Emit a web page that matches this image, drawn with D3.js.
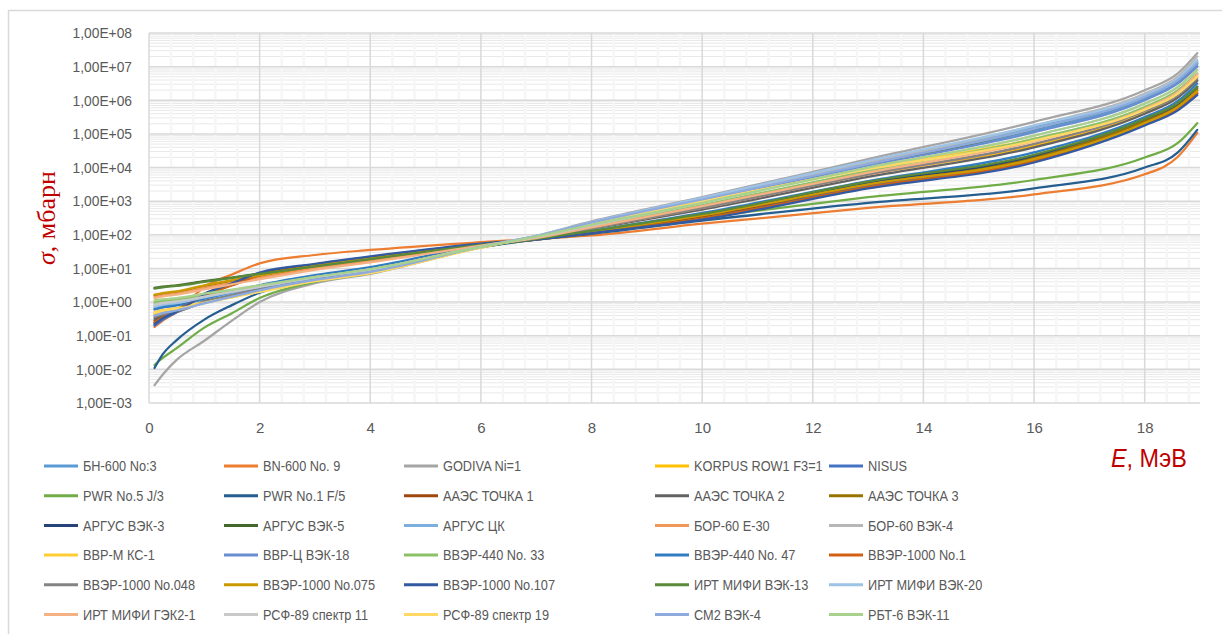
<!DOCTYPE html>
<html>
<head>
<meta charset="utf-8">
<script src="https://cdn.jsdelivr.net/npm/d3@7"></script>
<style>
  body { margin: 0; background: #fff; }
  text { font-family: "Liberation Sans", Arial, sans-serif; }
</style>
</head>
<body>
<div id="chart"></div>
<script>
// energy grid, MeV
const energies = [0.1, 0.25, 0.5, 1, 1.5, 2, 3, 4, 6, 7, 8, 10, 13, 16, 18, 18.6, 18.95];

const seriesNames = [
  "БН-600 No:3", "BN-600 No. 9", "GODIVA Ni=1", "KORPUS ROW1 F3=1", "NISUS",
  "PWR No.5 J/3", "PWR No.1 F/5", "ААЭС ТОЧКА 1", "ААЭС ТОЧКА 2", "ААЭС ТОЧКА 3",
  "АРГУС ВЭК-3", "АРГУС ВЭК-5", "АРГУС ЦК", "БОР-60 Е-30", "БОР-60 ВЭК-4",
  "ВВР-М КС-1", "ВВР-Ц ВЭК-18", "ВВЭР-440 No. 33", "ВВЭР-440 No. 47", "ВВЭР-1000 No.1",
  "ВВЭР-1000 No.048", "ВВЭР-1000 No.075", "ВВЭР-1000 No.107", "ИРТ МИФИ ВЭК-13", "ИРТ МИФИ ВЭК-20",
  "ИРТ МИФИ ГЭК2-1", "РСФ-89 спектр 11", "РСФ-89 спектр 19", "СМ2 ВЭК-4", "РБТ-6 ВЭК-11"
];

// log10(sigma, mbarn) at each energy
const lgSigma = [
  [-0.2, -0.15, -0.08, 0.08, 0.25, 0.4, 0.7, 0.94, 1.65, 1.95, 2.32, 3.0, 4.08, 5.1, 6.05, 6.55, 7.05],
  [-0.74, -0.55, -0.3, 0.45, 0.82, 1.15, 1.4, 1.55, 1.78, 1.88, 1.98, 2.33, 2.8, 3.2, 3.8, 4.32, 5.03],
  [-2.47, -2.15, -1.72, -1.15, -0.55, 0.0, 0.56, 0.84, 1.64, 1.97, 2.4, 3.12, 4.25, 5.36, 6.3, 6.8, 7.4],
  [-0.36, -0.3, -0.22, -0.02, 0.15, 0.32, 0.64, 0.88, 1.63, 1.92, 2.25, 2.85, 3.8, 4.65, 5.62, 6.1, 6.6],
  [-0.7, -0.52, -0.3, 0.2, 0.55, 0.85, 1.12, 1.34, 1.72, 1.86, 2.06, 2.5, 3.45, 4.2, 5.28, 5.75, 6.2],
  [-1.87, -1.66, -1.37, -0.76, -0.33, 0.12, 0.6, 0.86, 1.62, 1.87, 2.08, 2.52, 3.12, 3.63, 4.3, 4.73, 5.32],
  [-1.96, -1.55, -1.13, -0.52, -0.09, 0.28, 0.66, 0.92, 1.63, 1.86, 2.03, 2.42, 2.95, 3.38, 4.0, 4.45, 5.12],
  [-0.55, -0.4, -0.22, 0.2, 0.5, 0.78, 1.05, 1.28, 1.7, 1.87, 2.08, 2.55, 3.5, 4.28, 5.38, 5.85, 6.3],
  [-0.5, -0.41, -0.3, 0.02, 0.26, 0.48, 0.78, 1.02, 1.68, 1.9, 2.18, 2.75, 3.72, 4.6, 5.6, 6.08, 6.58],
  [0.2, 0.25, 0.3, 0.48, 0.63, 0.78, 1.05, 1.28, 1.7, 1.88, 2.1, 2.6, 3.55, 4.3, 5.4, 5.88, 6.35],
  [-0.62, -0.45, -0.25, 0.25, 0.56, 0.85, 1.1, 1.32, 1.72, 1.87, 2.1, 2.6, 3.55, 4.35, 5.45, 5.9, 6.4],
  [0.42, 0.46, 0.5, 0.62, 0.73, 0.85, 1.08, 1.3, 1.7, 1.92, 2.3, 3.0, 4.05, 5.15, 6.1, 6.6, 7.1],
  [-0.15, -0.1, -0.05, 0.1, 0.26, 0.42, 0.7, 0.94, 1.65, 1.96, 2.35, 3.05, 4.12, 5.2, 6.1, 6.6, 7.15],
  [0.15, 0.2, 0.25, 0.42, 0.57, 0.72, 1.0, 1.22, 1.68, 1.9, 2.2, 2.8, 3.8, 4.7, 5.7, 6.2, 6.7],
  [-0.05, 0.0, 0.05, 0.2, 0.35, 0.5, 0.78, 1.0, 1.66, 1.95, 2.34, 3.05, 4.15, 5.25, 6.2, 6.7, 7.3],
  [-0.3, -0.24, -0.18, 0.0, 0.16, 0.32, 0.63, 0.87, 1.63, 1.96, 2.35, 3.02, 4.0, 4.85, 5.75, 6.25, 6.75],
  [-0.42, -0.34, -0.26, -0.02, 0.18, 0.38, 0.68, 0.92, 1.65, 1.95, 2.32, 3.0, 4.05, 5.05, 6.0, 6.5, 7.0],
  [0.0, 0.04, 0.08, 0.2, 0.34, 0.48, 0.74, 0.96, 1.64, 1.93, 2.25, 2.88, 3.9, 4.85, 5.8, 6.3, 6.8],
  [-0.22, -0.16, -0.1, 0.1, 0.3, 0.5, 0.8, 1.04, 1.68, 1.88, 2.12, 2.65, 3.6, 4.45, 5.5, 5.98, 6.5],
  [-0.6, -0.44, -0.25, 0.2, 0.5, 0.8, 1.08, 1.3, 1.72, 1.86, 2.06, 2.48, 3.42, 4.2, 5.3, 5.75, 6.22],
  [-0.45, -0.37, -0.28, 0.0, 0.21, 0.42, 0.72, 0.96, 1.66, 1.9, 2.2, 2.8, 3.8, 4.7, 5.68, 6.15, 6.65],
  [0.22, 0.27, 0.32, 0.5, 0.65, 0.8, 1.08, 1.3, 1.7, 1.88, 2.1, 2.58, 3.5, 4.25, 5.32, 5.8, 6.28],
  [-0.66, -0.48, -0.28, 0.22, 0.56, 0.88, 1.14, 1.36, 1.74, 1.86, 2.05, 2.45, 3.38, 4.15, 5.25, 5.7, 6.15],
  [0.4, 0.44, 0.48, 0.6, 0.72, 0.84, 1.06, 1.28, 1.7, 1.88, 2.12, 2.62, 3.58, 4.38, 5.45, 5.92, 6.4],
  [-0.12, -0.07, -0.02, 0.14, 0.3, 0.45, 0.73, 0.96, 1.66, 1.97, 2.38, 3.1, 4.2, 5.25, 6.15, 6.65, 7.2],
  [0.12, 0.17, 0.22, 0.38, 0.53, 0.68, 0.96, 1.18, 1.68, 1.9, 2.22, 2.85, 3.85, 4.78, 5.75, 6.25, 6.78],
  [-0.08, -0.03, 0.02, 0.16, 0.31, 0.46, 0.74, 0.97, 1.65, 1.93, 2.28, 2.95, 4.0, 4.95, 5.9, 6.4, 6.9],
  [-0.32, -0.26, -0.2, -0.02, 0.14, 0.3, 0.62, 0.86, 1.62, 1.95, 2.33, 3.0, 3.95, 4.8, 5.72, 6.2, 6.7],
  [-0.4, -0.33, -0.25, -0.04, 0.16, 0.35, 0.66, 0.9, 1.64, 1.96, 2.36, 3.05, 4.1, 5.15, 6.1, 6.6, 7.1],
  [0.05, 0.08, 0.12, 0.25, 0.37, 0.5, 0.75, 0.98, 1.64, 1.95, 2.3, 2.95, 4.0, 4.95, 5.9, 6.4, 6.9]
];

const xTicks = [0, 2, 4, 6, 8, 10, 12, 14, 16, 18];
const yDecades = [-3, -2, -1, 0, 1, 2, 3, 4, 5, 6, 7, 8];

const width = 1222, height = 634;

// excel office palette, same order as the series
const colors = [
  "#5b9bd5", "#ed7d31", "#a5a5a5", "#ffc000", "#4472c4",
  "#70ad47", "#255e91", "#9e480e", "#636363", "#997300",
  "#264478", "#43682b", "#7cafdd", "#f1975a", "#b7b7b7",
  "#ffcd33", "#698ed0", "#8cc168", "#327dc2", "#d26012",
  "#848484", "#cc9a00", "#335aa1", "#5a8a39", "#9dc3e6",
  "#f4b183", "#c9c9c9", "#ffd966", "#8faadc", "#a9d18e"
];

// squeeze a text horizontally (Calibri is narrower than Liberation Sans)
function squeeze(sel, k) {
  sel.each(function () {
    const w = this.getComputedTextLength();
    d3.select(this).attr("textLength", w * k).attr("lengthAdjust", "spacingAndGlyphs");
  });
}

var svg = d3.select("#chart")
  .append("svg")
  .attr("width", width)
  .attr("height", height);

// chart frame
svg.append("rect")
  .attr("x", 8.5).attr("y", 10.5)
  .attr("width", 1240).attr("height", 640)
  .attr("fill", "#fff")
  .attr("stroke", "#d9d9d9")
  .attr("stroke-width", 1.5);

const x = d3.scaleLinear().domain([0, 19]).range([149, 1200]);
const y = d3.scaleLog().domain([1e-3, 1e8]).range([403, 33]);

const grid = svg.append("g");

// minor horizontal gridlines 2..9 x 10^k
var minorY = [];
yDecades.slice(0, -1).forEach(k => {
  for (let m = 2; m <= 9; m++) minorY.push(m * Math.pow(10, k));
});
grid.selectAll(".minor-y")
  .data(minorY)
  .enter().append("line")
  .attr("x1", x(0)).attr("x2", x(19))
  .attr("y1", d => y(d)).attr("y2", d => y(d))
  .attr("stroke", "#e9e9e9")
  .attr("stroke-width", 1);

// minor vertical gridlines every 0.4
var minorX = d3.range(1, 48).map(i => i * 0.4).filter(v => Math.abs(v / 2 - Math.round(v / 2)) > 1e-6);
grid.selectAll(".minor-x")
  .data(minorX)
  .enter().append("line")
  .attr("x1", d => x(d)).attr("x2", d => x(d))
  .attr("y1", y(1e8)).attr("y2", y(1e-3))
  .attr("stroke", "#f6f6f6")
  .attr("stroke-width", 2.5);

// major gridlines
grid.selectAll(".major-y")
  .data(yDecades)
  .enter().append("line")
  .attr("x1", x(0)).attr("x2", x(19))
  .attr("y1", d => y(Math.pow(10, d))).attr("y2", d => y(Math.pow(10, d)))
  .attr("stroke", "#d9d9d9")
  .attr("stroke-width", 1.5);

grid.selectAll(".major-x")
  .data(xTicks)
  .enter().append("line")
  .attr("x1", d => x(d)).attr("x2", d => x(d))
  .attr("y1", y(1e8)).attr("y2", y(1e-3))
  .attr("stroke", "#d9d9d9")
  .attr("stroke-width", 1.5);

// axes
const fmtE = v => {
  const e = Math.round(Math.log10(v));
  return "1,00E" + (e < 0 ? "-" : "+") + String(Math.abs(e)).padStart(2, "0");
};

svg.append("g")
  .attr("transform", `translate(${x(0)},0)`)
  .call(d3.axisLeft(y).tickValues(yDecades.map(k => Math.pow(10, k))).tickFormat(fmtE).tickSize(0).tickPadding(17))
  .call(g => g.select(".domain").remove())
  .selectAll("text")
  .style("font-family", "'Liberation Sans', Arial, sans-serif")
  .style("font-size", "15px")
  .attr("fill", "#595959")
  .call(squeeze, 0.92);

svg.append("g")
  .attr("transform", `translate(0,${y(1e-3)})`)
  .call(d3.axisBottom(x).tickValues(xTicks).tickFormat(d3.format("d")).tickSize(0).tickPadding(19))
  .call(g => g.select(".domain").remove())
  .selectAll("text")
  .style("font-family", "'Liberation Sans', Arial, sans-serif")
  .style("font-size", "15px")
  .attr("fill", "#595959");

// curves
const line = d3.line()
  .x(d => x(d[0]))
  .y(d => y(Math.pow(10, d[1])))
  .curve(d3.curveMonotoneX);

svg.append("g")
  .selectAll("path")
  .data(lgSigma)
  .enter().append("path")
  .attr("d", s => line(s.map((v, i) => [energies[i], v])))
  .attr("fill", "none")
  .attr("stroke", (s, i) => colors[i])
  .attr("stroke-width", 2.25)
  .attr("stroke-linejoin", "round")
  .attr("stroke-linecap", "round");

// axis titles
const yTitle = svg.append("text")
  .attr("transform", "translate(55,218) rotate(-90)")
  .attr("text-anchor", "middle")
  .style("font-family", "'Liberation Serif', 'Times New Roman', serif")
  .style("font-size", "26px")
  .attr("fill", "#c00000");
yTitle.append("tspan").style("font-style", "italic").text("σ");
yTitle.append("tspan").text(", мбарн");

const xTitle = svg.append("text")
  .attr("x", 1111).attr("y", 467)
  .style("font-size", "26px")
  .attr("fill", "#c00000");
xTitle.append("tspan").style("font-style", "italic").text("E");
xTitle.append("tspan").text(", МэВ");
xTitle.call(squeeze, 0.9);

// legend
const legendCols = [44, 224, 404, 655, 829];
const legend = svg.append("g")
  .selectAll("g")
  .data(seriesNames)
  .enter().append("g")
  .attr("transform", (d, i) => `translate(${legendCols[i % 5]},${466 + Math.floor(i / 5) * 29.7})`);

legend.append("line")
  .attr("x1", 0).attr("x2", 34)
  .attr("stroke", (d, i) => colors[i])
  .attr("stroke-width", 3);

legend.append("text")
  .attr("x", 39)
  .attr("dy", "0.36em")
  .style("font-size", "14.5px")
  .attr("fill", "#595959")
  .text(d => d)
  .call(squeeze, 0.88);
</script>
</body>
</html>
